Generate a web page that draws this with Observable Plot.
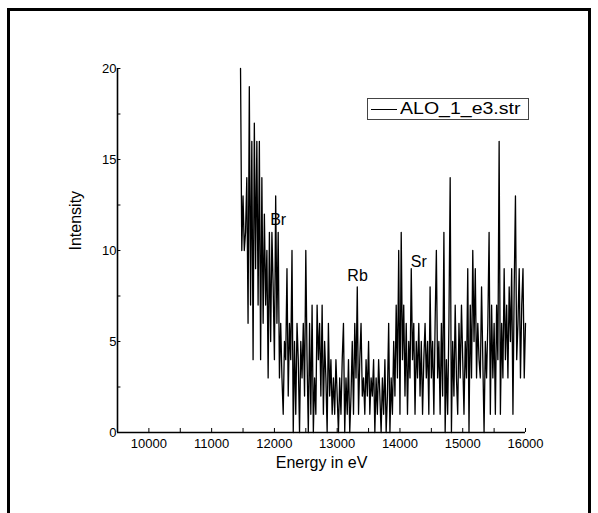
<!DOCTYPE html>
<html>
<head>
<meta charset="utf-8">
<script src="https://cdn.jsdelivr.net/npm/d3@7"></script>
<script src="https://cdn.jsdelivr.net/npm/@observablehq/plot@0.6"></script>
<style>
  html, body { margin: 0; padding: 0; background: #fff; }
  #wrap { position: relative; width: 598px; height: 513px; overflow: hidden; font-family: "Liberation Sans", Arial, sans-serif; }
  #frame { position: absolute; left: 7px; top: 8px; width: 584px; height: 520px; border: 3px solid #000; box-sizing: border-box; pointer-events: none; }
  #legend { position: absolute; left: 367px; top: 98px; width: 162px; height: 22px; border: 1px solid #444; box-sizing: border-box; background: #fff; display: flex; align-items: center; font-size: 16px; color: #000; white-space: nowrap; }
  #legend .sw { width: 26px; height: 0; border-top: 1px solid #000; margin-left: 3px; margin-right: 3px; }
  #legend .lt { display: inline-block; transform: scaleX(1.22); transform-origin: left center; }
</style>
</head>
<body>
<div id="wrap"></div>
<script>
// Spectrum: start energy (eV), step (eV), counts per channel
const startEnergy = 11460;
const stepEnergy = 20;
const counts = [
  20,10,13,10,11,14,6,19,7,16,4,17,9,16,7,16,4,14,6,12,7,10,3,11,5,
  11,8,4,13,6,11,3,6,3,1,5,4,9,2,6,4,10,0,5,1,6,4,0,5,3,
  6,2,10,4,0,6,1,7,0,3,1,7,4,6,2,7,1,5,3,0,6,2,4,1,3,
  1,4,2,0,3,1,4,6,0,3,1,4,0,2,5,1,6,3,8,1,4,6,2,3,1,
  4,2,5,1,3,2,4,0,3,1,4,2,0,3,1,4,0,2,6,0,3,1,5,2,7,
  3,10,1,11,4,7,2,6,1,5,3,9,4,6,1,5,3,6,2,5,1,4,6,3,5,
  1,8,3,5,1,6,10,3,5,1,6,2,11,0,4,1,6,14,0,5,2,7,3,1,6,
  3,7,4,1,5,3,9,0,7,3,10,5,9,3,6,4,3,8,4,0,5,3,6,11,1,
  7,3,6,1,7,4,16,1,6,3,9,4,7,3,8,5,9,1,8,13,4,6,9,3,7,9,3,6
];
const xTicks = [10000, 11000, 12000, 13000, 14000, 15000, 16000];
const xMinor = [9500, 10500, 11500, 12500, 13500, 14500, 15500];
const yTicks = [0, 5, 10, 15, 20];
const yMinor = [2.5, 7.5, 12.5, 17.5];
const peakLabels = ["Br", "Rb", "Sr"];
const peakEnergy = [12060, 13325, 14300];
const peakLevel = [11.7, 8.6, 9.4];
const seriesName = "ALO_1_e3.str";

const spectrum = counts.map((c, i) => ({energy: startEnergy + i * stepEnergy, count: c}));
const peaks = peakLabels.map((t, i) => ({label: t, energy: peakEnergy[i], level: peakLevel[i]}));

const chart = Plot.plot({
  width: 598,
  height: 513,
  marginLeft: 117,
  marginRight: 73,
  marginTop: 68,
  marginBottom: 81,
  style: {fontFamily: "'Liberation Sans', Arial, sans-serif", color: "#000", background: "transparent"},
  x: {domain: [9500, 16000]},
  y: {domain: [0, 20]},
  marks: [
    Plot.line(spectrum, {x: "energy", y: "count", stroke: "#000", strokeWidth: 1.3}),
    Plot.ruleX(xTicks.concat(xMinor), {x: d => d, y1: 0, y2: 0.22, stroke: "#000", strokeWidth: 1}),
    Plot.ruleY(yTicks.concat(yMinor), {y: d => d, x1: 9500, x2: 9555, stroke: "#000", strokeWidth: 1}),
    Plot.ruleY([0], {x1: 9500, x2: 16000, stroke: "#000", strokeWidth: 1.6}),
    Plot.ruleX([9500], {y1: 0, y2: 20, stroke: "#000", strokeWidth: 1.6}),
    Plot.axisX({ticks: xTicks, tickSize: 0, tickPadding: 6, fontSize: 13, label: null, tickFormat: d => String(d)}),
    Plot.axisY({ticks: yTicks, tickSize: 0, tickPadding: 1, fontSize: 13, label: null, tickFormat: d => String(d)}),
    Plot.text(["Energy in eV"], {frameAnchor: "bottom", dy: 35, fontSize: 16, fill: "#000"}),
    Plot.text(["Intensity"], {frameAnchor: "left", dx: -42, rotate: -90, fontSize: 16, fill: "#000"}),
    Plot.text(peaks, {x: "energy", y: "level", text: "label", fontSize: 16, fill: "#000"})
  ]
});

const wrap = document.getElementById("wrap");
wrap.appendChild(chart);
const frame = document.createElement("div");
frame.id = "frame";
wrap.appendChild(frame);
const legend = document.createElement("div");
legend.id = "legend";
legend.innerHTML = '<span class="sw"></span><span class="lt"></span>';
legend.lastChild.textContent = seriesName;
wrap.appendChild(legend);
chart.style.position = "absolute";
chart.style.left = "0px";
chart.style.top = "0px";
</script>
</body>
</html>
